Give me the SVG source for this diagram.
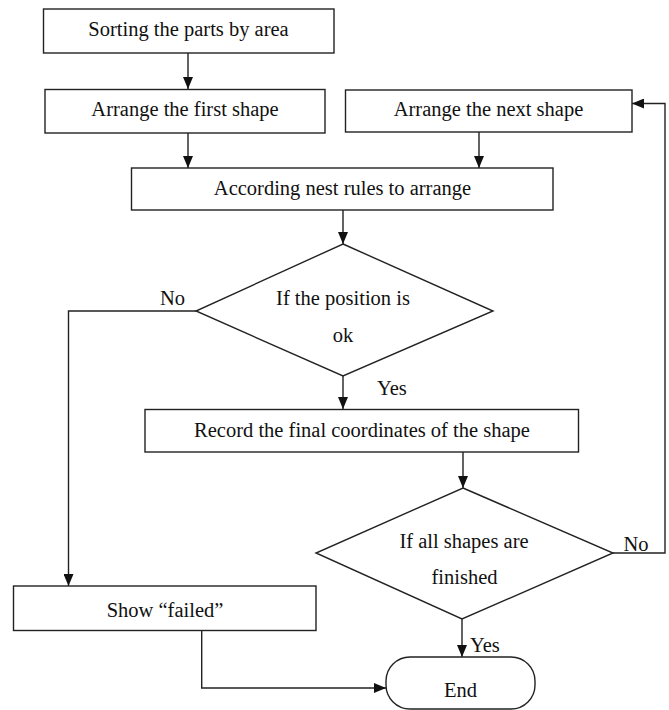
<svg xmlns="http://www.w3.org/2000/svg" width="669" height="710" viewBox="0 0 669 710">
<style>
.box{fill:#fff;stroke:#222;stroke-width:1.4}
.ln{fill:none;stroke:#222;stroke-width:1.4}
text{font-family:"Liberation Serif","Times New Roman",serif;font-size:20.5px;fill:#111}
.c{text-anchor:middle}
</style>
<defs>
<marker id="ah" viewBox="0 0 12 10" refX="12" refY="5" markerWidth="12" markerHeight="10" markerUnits="userSpaceOnUse" orient="auto">
<path d="M0,0 L12,5 L0,10 Z" fill="#111"/>
</marker>
</defs>
<g id="connectors">
<line class="ln" x1="188" y1="53" x2="188" y2="89" marker-end="url(#ah)"/>
<line class="ln" x1="188" y1="133" x2="188" y2="168" marker-end="url(#ah)"/>
<line class="ln" x1="479" y1="132" x2="479" y2="168" marker-end="url(#ah)"/>
<line class="ln" x1="343" y1="210" x2="343" y2="244" marker-end="url(#ah)"/>
<polyline class="ln" points="196,311 68.5,311 68.5,586" marker-end="url(#ah)"/>
<line class="ln" x1="343" y1="376" x2="343" y2="409" marker-end="url(#ah)"/>
<line class="ln" x1="463" y1="452" x2="463" y2="488" marker-end="url(#ah)"/>
<polyline class="ln" points="613,553 665,553 665,103.5 632,103.5" marker-end="url(#ah)"/>
<line class="ln" x1="462" y1="619" x2="462" y2="657" marker-end="url(#ah)"/>
<polyline class="ln" points="201.7,631 201.7,688 386,688" marker-end="url(#ah)"/>
</g>
<g id="n1"><rect class="box" x="43.5" y="9" width="290.5" height="44"/><text class="c" x="188.5" y="36">Sorting the parts by area</text></g>
<g id="n2"><rect class="box" x="45" y="89.5" width="280" height="43.5"/><text class="c" x="185" y="116">Arrange the first shape</text></g>
<g id="n3"><rect class="box" x="345.5" y="90" width="286.5" height="42"/><text class="c" x="488.5" y="116">Arrange the next shape</text></g>
<g id="n4"><rect class="box" x="131.5" y="168" width="421.5" height="42"/><text class="c" x="342.5" y="195">According nest rules to arrange</text></g>
<g id="n5"><polygon class="box" points="343,244 493,311 343,376 196,311"/><text class="c" x="343" y="305">If the position is</text><text class="c" x="343" y="341.5">ok</text></g>
<g id="n6"><rect class="box" x="145" y="409.5" width="433.5" height="42.5"/><text class="c" x="362" y="436.5">Record the final coordinates of the shape</text></g>
<g id="n7"><polygon class="box" points="463,488 613,553 462,619 316,553"/><text class="c" x="464" y="547.5">If all shapes are</text><text class="c" x="464.5" y="584">finished</text></g>
<g id="n8"><rect class="box" x="13.5" y="586" width="302.5" height="44.5"/><text class="c" x="165" y="616.5">Show “failed”</text></g>
<g id="n9"><rect class="box" x="386" y="657" width="149" height="52" rx="24" ry="24"/><text class="c" x="460.5" y="696.5">End</text></g>
<g id="labels">
<text class="c" x="172.5" y="305">No</text>
<text x="377" y="395">Yes</text>
<text x="623.5" y="550.5">No</text>
<text x="470" y="651.5">Yes</text>
</g>
</svg>
